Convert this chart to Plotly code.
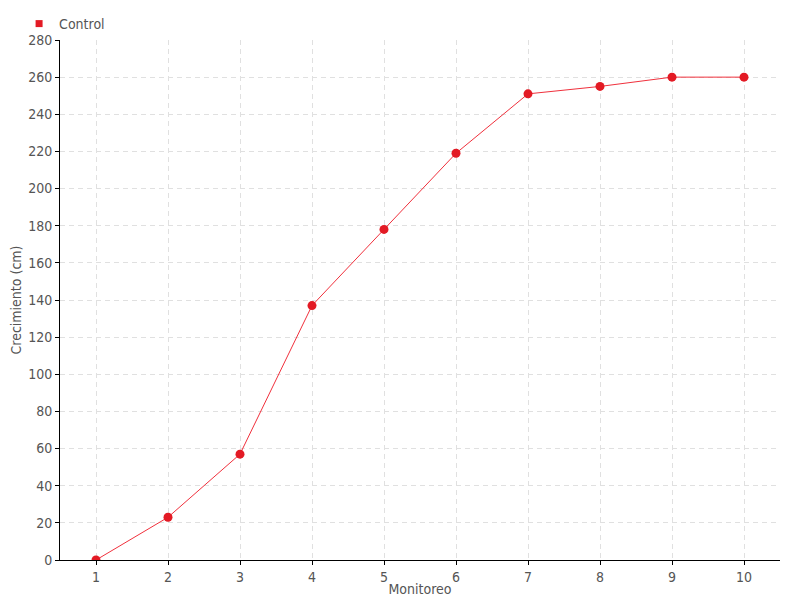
import plotly.graph_objects as go

monitoreo = [1, 2, 3, 4, 5, 6, 7, 8, 9, 10]
control = [0, 23, 57, 137, 178, 219, 251, 255, 260, 260]
y_ticks = list(range(0, 281, 20))

font_family = "DejaVu Sans Condensed, DejaVu Sans, sans-serif"

fig = go.Figure()
fig.add_trace(go.Scatter(
    x=monitoreo, y=control, mode="lines+markers", name="Control",
    line=dict(color="#f0303c", width=1),
    marker=dict(color="#e31a24", size=9),
    showlegend=False,
))
fig.add_trace(go.Scatter(
    x=[None], y=[None], mode="markers", name="Control",
    marker=dict(color="#e31a24", size=7, symbol="square"),
    showlegend=True,
))

fig.update_layout(
    width=792, height=592,
    paper_bgcolor="white", plot_bgcolor="white",
    margin=dict(l=52, r=20, t=32, b=40),
    font=dict(family=font_family, size=14, color="#555555"),
    showlegend=True,
    legend=dict(x=0.014, y=1.0, xref="container", yref="container",
                xanchor="left", yanchor="top", bgcolor="rgba(0,0,0,0)",
                orientation="h", font=dict(size=14, color="#555555"),
                itemwidth=30, tracegroupgap=0),
    xaxis=dict(
        range=[0.5, 10.5], tickmode="array", tickvals=monitoreo,
        ticktext=[str(v) for v in monitoreo],
        showline=True, linecolor="black", linewidth=1,
        ticks="outside", ticklen=4, tickcolor="black",
        showgrid=True, gridcolor="#e0e0e0", griddash="5px,4px", gridwidth=1,
        zeroline=False, automargin=False,
        title=dict(text="Monitoreo", standoff=0, font=dict(size=14)),
    ),
    yaxis=dict(
        range=[0, 280], tickmode="array", tickvals=y_ticks,
        showline=True, linecolor="black", linewidth=1,
        ticks="outside", ticklen=4, tickcolor="black",
        showgrid=True, gridcolor="#e0e0e0", griddash="5px,4px", gridwidth=1,
        zeroline=False, automargin=False,
        title=dict(text="Crecimiento (cm)", standoff=12, font=dict(size=14)),
    ),
)

fig.write_html("out.html")
